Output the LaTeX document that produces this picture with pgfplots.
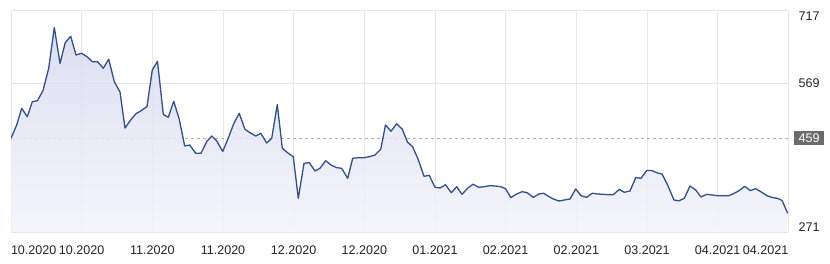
\documentclass[border=0pt]{standalone}
\usepackage{pgfplots}
\usepackage{pgfplotstable}
\pgfplotsset{compat=1.18}
\usepackage{fontspec}
\setmainfont{Liberation Sans}
\definecolor{linecol}{HTML}{2F4F8F}
\definecolor{filltop}{HTML}{D6D9EE}
\definecolor{fillbot}{HTML}{F3F4FA}
\definecolor{gridcol}{HTML}{E6E6E6}
\definecolor{txt}{HTML}{222222}
\definecolor{boxcol}{HTML}{6B6B6B}

\pgfplotstableread{
x y
11 459.2
16.7 486
21.7 519.5
27.3 502.6
32.3 532.8
37.5 534.8
43 555.3
48.7 599.9
54.3 681.8
60 609.9
65.3 651.7
70.7 664.2
76 626.6
81.5 630
87 623.2
92.5 613.1
97.5 613.1
103.3 599.9
108.7 618.2
114.3 573
120 552.3
125 479.9
131 497
136 508.7
141.7 515.5
147 523.1
152.3 596.5
157.5 613.9
163.3 507.1
168.3 501.4
173.7 533.6
179.2 498
184.7 443.8
189.7 445.8
195.8 429.1
201 429.1
206.7 452.4
211.7 463.9
216.7 454.2
222.7 432.7
228.3 459.8
233.7 488.4
239.2 509.5
245 477.3
250 470.5
255.7 463.9
260.8 469.3
266.7 449.8
271.7 459.2
277.3 527.1
282.3 439.2
288.3 429.1
293.3 422.3
298.3 338.7
304 409
309.3 410.2
315 393.6
320 399
325.7 414.2
331 405.6
336.7 400.2
341.7 399
347.7 378.9
352.7 419.1
358.3 420.3
364 420.3
369.3 422.3
375 425.7
380.7 437.1
385.5 486
391 473.3
396.7 488.6
402.3 477.5
407.5 451.4
412.5 442.8
418.3 416.3
424 382.9
429.2 384.9
435 360.8
440.3 359.4
445.5 366
451.3 350
456.7 362
462 346.7
467.5 358.8
473 367
478.7 360.8
484.2 362
489.7 364
495.3 363.4
500.8 362
505.5 358
510.8 340.3
516.3 346.9
522 352
527.2 350
533.3 340.3
538.7 347.3
543.7 348.8
548.8 342.3
553.3 337.3
559 333.3
564.3 335.3
570 337.3
575.7 357.4
581 343.9
586.7 340.7
592.3 348.8
597.7 347.3
603.3 346.7
608.3 345.9
613.3 345.9
619.3 356.8
624.3 350.8
630 353.4
635.7 380.1
641 378.9
646.7 394.6
651.5 394.6
657.7 389.5
662.2 387.1
667.8 364.4
674 335.3
679 333.7
684.3 338.7
690 363.4
695.7 355.4
701 341.3
706.7 346.7
712.3 345.3
717.7 343.9
723.3 343.9
728.7 343.9
734.2 348.8
739.7 354.8
744.7 362.8
750.3 354
755.5 358
761.3 351.4
767.2 343.7
772.5 340.3
778 338.3
782 334.3
787.7 308.6
}\datatable

\begin{document}
\begin{tikzpicture}
\path[use as bounding box] (0,0) rectangle (830bp,264bp);
\begin{axis}[
  at={(11bp,32bp)}, anchor=south west,
  scale only axis, width=777.33bp, height=222bp,
  xmin=11, xmax=788.33, ymin=271, ymax=717,
  xtick={11,81.67,152.33,223,293.67,364.33,435,505.67,576.33,647,717.67,788.33},
  xticklabels={\rlap{10.2020},10.2020,11.2020,11.2020,12.2020,12.2020,01.2021,02.2021,02.2021,03.2021,04.2021,\llap{04.2021}},
  ytick={271,569,717},
  yticklabels={\raisebox{5bp}[\height][\depth]{271},569,\raisebox{-6bp}[\height][\depth]{717}},
  yticklabel pos=right,
  extra y ticks={459},
  extra y tick labels={459},
  extra y tick style={grid=major, major grid style={dash pattern=on 3bp off 3bp, color=gray!60, line width=0.7bp}, yticklabel style={fill=boxcol, text=white}},
  grid=major,
  major grid style={gridcol, line width=0.8bp},
  axis line style={draw=none},
  major tick length=0pt,
  tick label style={font=\fontsize{12.6}{14}\selectfont, text=txt},
  xticklabel style={anchor=north, yshift=-10bp},
  yticklabel style={anchor=west, inner xsep=4.5bp, inner ysep=2.5bp, xshift=5.5bp},
]
\addplot[draw=none, mark=none, top color=filltop, bottom color=fillbot, fill opacity=0.85] table[x=x,y=y]{\datatable} \closedcycle;
\addplot[linecol, mark=none, line width=1.3bp, line join=round] table[x=x,y=y]{\datatable};
\end{axis}
\end{tikzpicture}
\end{document}
